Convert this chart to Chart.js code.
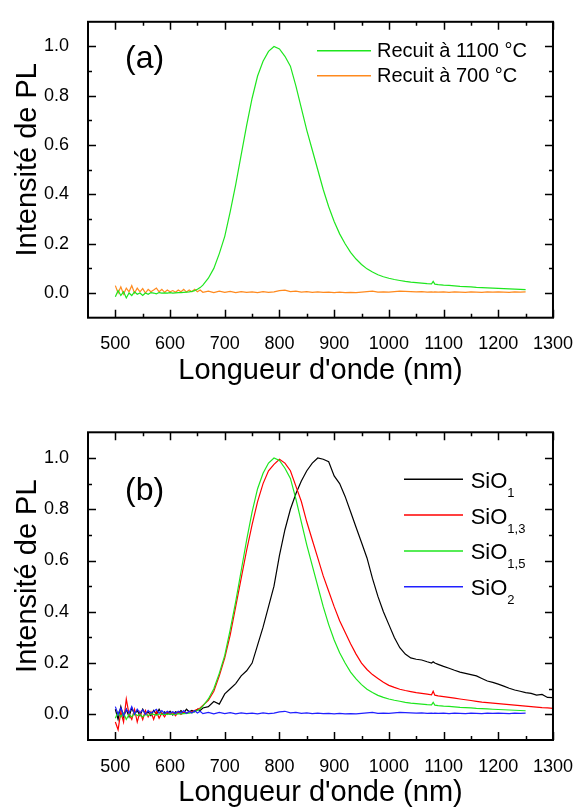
<!DOCTYPE html>
<html>
<head>
<meta charset="utf-8">
<script src="https://cdn.jsdelivr.net/npm/chart.js@4.4.0/dist/chart.umd.min.js"></script>
<style>
  body { margin: 0; background: #fff; }
  #wrap { position: relative; width: 581px; height: 810px; }
  canvas { position: absolute; left: 0; }
</style>
</head>
<body>
<div id="wrap">
  <canvas id="chartA" width="581" height="400" style="top:0"></canvas>
  <canvas id="chartB" width="581" height="410" style="top:400px"></canvas>
</div>
<script>
/* PL spectra - two stacked panels */

// axis ticks
const xTicks = [500, 600, 700, 800, 900, 1000, 1100, 1200, 1300];
const yTicks = [0.0, 0.2, 0.4, 0.6, 0.8, 1.0];

// wavelength (nm) shared by all series
const wavelength = [
  500,505,510,515,520,525,530,535,540,545,
  550,555,560,565,570,575,580,585,590,595,
  600,605,610,615,620,625,630,635,640,645,
  650,655,660,
  670,680,690,700,710,720,730,740,750,760,
  770,780,790,800,810,820,830,840,850,860,
  870,880,890,900,910,920,930,940,950,960,
  970,980,990,1000,1010,1020,1030,1040,1050,1060,1070,
  1078,1081,1084,
  1090,1100,1110,1120,1130,1140,1150,1160,1170,1180,
  1190,1200,1210,1220,1230,1240,1250,1260,1270,1280,1290,1300
];

// panel (a): annealed at 1100 °C (same sample as SiO1,5 in panel b)
const recuit1100 = [
  -0.015,0.01,-0.01,0.005,-0.02,0.0,-0.01,0.005,-0.005,0.0,
  -0.01,0.0,-0.005,0.002,0.0,-0.003,0.002,0.0,0.001,0.0,
  0.002,0.0,0.001,0.002,0.002,0.003,0.004,0.005,0.007,0.01,
  0.015,0.022,0.032,
  0.06,0.1,0.16,0.23,0.33,0.44,0.56,0.68,0.79,0.88,
  0.94,0.98,1.0,0.99,0.96,0.92,0.84,0.75,0.66,0.58,
  0.5,0.42,0.35,0.29,0.24,0.2,0.165,0.138,0.116,0.098,
  0.085,0.074,0.066,0.06,0.055,0.051,0.047,0.044,0.042,0.04,0.038,
  0.037,0.047,0.036,
  0.034,0.032,0.031,0.029,0.027,0.026,0.025,0.023,0.022,0.021,
  0.02,0.019,0.018,0.017,0.016,0.015,0.014,null,null,null,null,null
];

// panel (a): annealed at 700 °C (same flat signal as SiO2 in panel b)
const recuit700 = [
  0.03,0.0,0.025,-0.005,0.02,0.005,0.03,0.0,0.02,0.005,
  0.018,0.0,0.015,0.005,0.012,0.02,0.005,0.015,0.003,0.012,
  0.005,0.01,0.003,0.012,0.005,0.015,0.004,0.012,0.005,0.015,
  0.005,0.012,0.003,
  0.008,0.002,0.008,0.003,0.007,0.002,0.006,0.003,0.005,0.002,
  0.006,0.003,0.005,0.01,0.012,0.006,0.008,0.004,0.006,0.003,
  0.005,0.003,0.004,0.002,0.004,0.002,0.003,0.002,0.004,0.006,
  0.008,0.004,0.005,0.004,0.006,0.008,0.007,0.006,0.005,0.006,0.004,
  0.005,0.004,0.005,
  0.004,0.005,0.003,0.005,0.004,0.003,0.005,0.004,0.003,0.005,
  0.004,0.005,0.004,0.003,0.005,0.004,0.005,null,null,null,null,null
];

// panel (b)
const sio1 = [
  0.02,-0.02,0.03,-0.01,0.02,-0.01,0.025,0.0,0.015,-0.005,
  0.02,0.0,0.01,-0.005,0.015,0.0,0.02,0.0,0.01,0.0,
  0.012,-0.003,0.01,0.005,0.015,0.005,0.02,0.01,0.015,0.01,
  0.02,0.015,0.025,
  0.03,0.05,0.04,0.08,0.1,0.12,0.15,0.17,0.2,0.27,
  0.34,0.42,0.5,0.62,0.72,0.8,0.86,0.91,0.95,0.98,
  1.0,0.995,0.985,0.93,0.9,0.85,0.79,0.73,0.67,0.61,
  0.53,0.46,0.4,0.35,0.3,0.26,0.235,0.22,0.215,0.212,0.205,
  0.2,0.205,0.2,
  0.195,0.187,0.18,0.172,0.165,0.16,0.155,0.15,0.14,0.13,
  0.125,0.118,0.11,0.102,0.095,0.09,0.085,0.082,0.075,0.078,0.066,0.065
];
const sio13 = [
  -0.03,-0.06,0.01,-0.03,0.06,0.0,-0.02,0.02,-0.03,0.01,
  -0.02,0.015,-0.01,0.01,-0.02,0.012,-0.015,0.005,-0.01,0.01,
  0.0,0.008,-0.005,0.01,0.0,0.008,0.005,0.01,0.01,0.015,
  0.02,0.025,0.035,
  0.055,0.09,0.15,0.22,0.31,0.42,0.53,0.64,0.74,0.83,
  0.9,0.95,0.975,0.995,0.98,0.95,0.89,0.83,0.75,0.68,
  0.61,0.54,0.48,0.42,0.365,0.32,0.275,0.235,0.2,0.175,
  0.155,0.14,0.125,0.113,0.105,0.098,0.093,0.089,0.085,0.082,0.079,
  0.076,0.09,0.075,
  0.072,0.069,0.066,0.063,0.06,0.057,0.054,0.051,0.048,0.046,
  0.044,0.042,0.04,0.038,0.036,0.034,0.032,0.03,0.028,0.026,0.025,0.023
];
const sio15 = recuit1100;
const sio2 = recuit700;

const FONT = '"Liberation Sans", Arial, sans-serif';
const toPoints = vals => wavelength.map((x, i) => ({ x, y: vals[i] })).filter(p => p.y !== null);
const line = (label, vals, color) => ({
  label, data: toPoints(vals), borderColor: color, borderWidth: 1.2,
  pointRadius: 0, fill: false, tension: 0
});

// frame, inward ticks on four sides, titles, panel letter and legend
const decor = {
  id: 'decor',
  afterDatasetsDraw(chart, args, o) {
    const { ctx, chartArea: a, scales: { x, y } } = chart;
    const mids = arr => arr.slice(1).map((v, i) => (v + arr[i]) / 2);
    ctx.save();
    ctx.strokeStyle = '#000';
    ctx.lineWidth = 1.5;
    ctx.beginPath();
    const xt = (vals, len) => vals.forEach(v => {
      const px = Math.round(x.getPixelForValue(v)) + 0.5;
      ctx.moveTo(px, a.bottom); ctx.lineTo(px, a.bottom - len);
      ctx.moveTo(px, a.top); ctx.lineTo(px, a.top + len);
    });
    const yt = (vals, len) => vals.forEach(v => {
      const py = Math.round(y.getPixelForValue(v)) + 0.5;
      ctx.moveTo(a.left, py); ctx.lineTo(a.left + len, py);
      ctx.moveTo(a.right, py); ctx.lineTo(a.right - len, py);
    });
    xt(xTicks, 8); xt(mids(xTicks), 4);
    yt(yTicks, 8); yt(mids(yTicks), 4);
    ctx.stroke();
    ctx.lineWidth = 2;
    ctx.strokeRect(a.left, a.top, a.right - a.left, a.bottom - a.top);

    ctx.fillStyle = '#000';
    ctx.textBaseline = 'alphabetic';
    // axis titles
    ctx.font = '29px ' + FONT;
    ctx.textAlign = 'center';
    ctx.fillText("Longueur d'onde (nm)", (a.left + a.right) / 2, a.bottom + 61);
    ctx.save();
    ctx.translate(36, (a.top + a.bottom) / 2 - 10);
    ctx.rotate(-Math.PI / 2);
    ctx.fillText('Intensité de PL', 0, 0);
    ctx.restore();
    // panel letter
    ctx.textAlign = 'left';
    ctx.font = '32px ' + FONT;
    ctx.fillText(o.letter, 125, o.letterY);
    // legend
    const L = o.legend;
    chart.data.datasets.slice().sort((p, q) => p.order2 - q.order2).forEach((ds, i) => {
      const ly = L.y0 + i * L.dy;
      ctx.strokeStyle = ds.borderColor;
      ctx.lineWidth = 1.5;
      ctx.beginPath();
      ctx.moveTo(L.x0, ly); ctx.lineTo(L.x1, ly);
      ctx.stroke();
      const [main, sub] = ds.label.split('_');
      ctx.font = L.size + 'px ' + FONT;
      ctx.fillText(main, L.tx, ly + L.base);
      if (sub) {
        const w = ctx.measureText(main).width;
        ctx.font = L.subSize + 'px ' + FONT;
        ctx.fillText(sub, L.tx + w, ly + L.base + L.subDrop);
      }
    });
    ctx.restore();
  }
};

function makeChart(id, height, plotTop, plotBottom, datasets, decorOpts) {
  return new Chart(document.getElementById(id), {
    type: 'line',
    data: { datasets },
    options: {
      responsive: false, animation: false, devicePixelRatio: 1,
      layout: { padding: { top: plotTop, right: 24, left: 0, bottom: 0 } },
      plugins: { legend: { display: false }, tooltip: { enabled: false }, decor: decorOpts },
      scales: {
        x: {
          type: 'linear', min: 450, max: 1300,
          afterBuildTicks: s => { s.ticks = xTicks.map(v => ({ value: v })); },
          afterFit: s => { s.height = height - plotBottom; },
          grid: { display: false }, border: { display: false },
          ticks: { color: '#000', font: { family: FONT, size: 18 }, padding: 8,
                   maxRotation: 0, autoSkip: false, callback: v => String(v) }
        },
        y: {
          type: 'linear', min: -0.1, max: 1.1,
          afterBuildTicks: s => { s.ticks = yTicks.map(v => ({ value: v })); },
          afterFit: s => { s.width = 88; },
          grid: { display: false }, border: { display: false },
          ticks: { color: '#000', font: { family: FONT, size: 18 }, padding: 11,
                   callback: v => v.toFixed(1) }
        }
      }
    },
    plugins: [decor]
  });
}

const GREEN = '#1ee61e', ORANGE = '#ff8a1e', RED = '#ff0000', BLUE = '#2020ff', BLACK = '#000000';

// panel (a)
makeChart('chartA', 400, 9.3, 317.7, [
  Object.assign(line('Recuit à 1100 °C', recuit1100, GREEN), { order2: 0 }),
  Object.assign(line('Recuit à 700 °C', recuit700, ORANGE), { order2: 1 })
], {
  letter: '(a)', letterY: 68,
  legend: { x0: 317, x1: 371, tx: 377, y0: 50.7, dy: 25, base: 6.5, size: 20, subSize: 13, subDrop: 8 }
});

// panel (b): blue drawn first so the noisy start stays underneath
makeChart('chartB', 410, 32.3, 340, [
  Object.assign(line('SiO_2', sio2, BLUE), { order2: 3 }),
  Object.assign(line('SiO_1,5', sio15, GREEN), { order2: 2 }),
  Object.assign(line('SiO_1,3', sio13, RED), { order2: 1 }),
  Object.assign(line('SiO_1', sio1, BLACK), { order2: 0 })
], {
  letter: '(b)', letterY: 100,
  legend: { x0: 404, x1: 463, tx: 470.7, y0: 79.3, dy: 35.8, base: 8.5, size: 22, subSize: 13, subDrop: 9 }
});
</script>
</body>
</html>
